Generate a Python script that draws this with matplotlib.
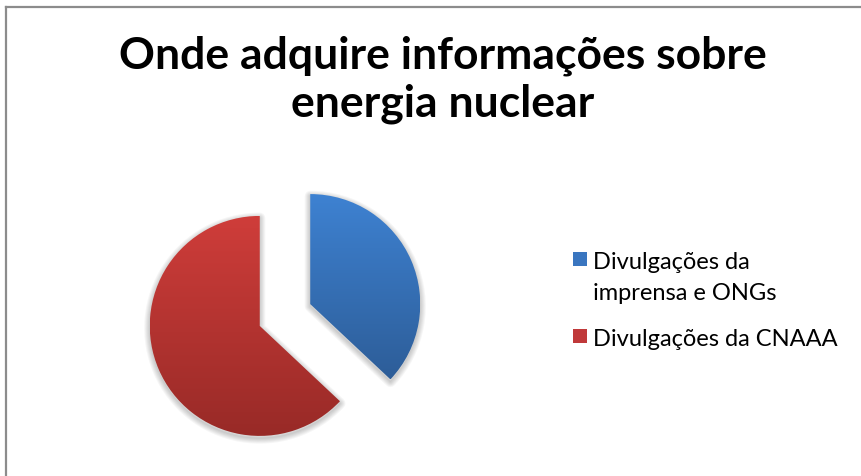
import numpy as np
import matplotlib
matplotlib.use("Agg")
import matplotlib.pyplot as plt
from matplotlib.colors import LinearSegmentedColormap
from matplotlib.patches import Rectangle, Wedge
from matplotlib.lines import Line2D

# ---- data ----
categories = ["Divulgações da\nimprensa e ONGs", "Divulgações da CNAAA"]
values = [37, 63]
title = "Onde adquire informações sobre\nenergia nuclear"
top_colors = ["#3e82d2", "#cf3d3a"]
bottom_colors = ["#2d5d98", "#982a27"]
legend_colors = ["#3a76c0", "#c0393a"]

W, H = 861, 477
fig = plt.figure(figsize=(W / 100, H / 100), dpi=100)
fig.patch.set_facecolor("white")

# chart border (top and left visible)
fig.add_artist(Line2D([6 / W, 6 / W], [0, 1 - 7.5 / H], color="#8c8c8c", lw=1.6))
fig.add_artist(Line2D([6 / W, 1], [1 - 7.5 / H, 1 - 7.5 / H], color="#8c8c8c", lw=1.6))

# pie axes: center at (285, 316) px from top-left, radius 110 px
cx, cy, R = 285.0, 316.0, 110.0
half = 1.5 * R
ax = fig.add_axes([(cx - half) / W, (H - cy - half) / H, 2 * half / W, 2 * half / H])
ax.set_xlim(-1.5, 1.5)
ax.set_ylim(-1.5, 1.5)
ax.axis("off")

wedges, _ = ax.pie(values, startangle=90, counterclock=False, explode=[0.25, 0.25],
                   radius=1.0, wedgeprops=dict(linewidth=0))

for i, w in enumerate(wedges):
    # soft shadow
    for k in range(6):
        sh = Wedge((w.center[0], w.center[1] - 0.02), w.r, w.theta1, w.theta2,
                   facecolor="none", edgecolor="black", lw=1 + 1.4 * k,
                   alpha=0.035, zorder=0.5, joinstyle="round")
        ax.add_patch(sh)
    ext = w.get_path().get_extents()
    cmap = LinearSegmentedColormap.from_list("g%d" % i, [bottom_colors[i], top_colors[i]])
    grad = np.linspace(0, 1, 256).reshape(-1, 1)
    w.set_facecolor("none")
    w.set_zorder(2)
    im = ax.imshow(grad, cmap=cmap, origin="lower", aspect="auto",
                   extent=[ext.x0, ext.x1, ext.y0, ext.y1], zorder=1.5,
                   interpolation="bilinear")
    im.set_clip_path(w)
ax.set_xlim(-1.5, 1.5)
ax.set_ylim(-1.5, 1.5)

# title (baselines at 69 and 117 px from top)
for k, line in enumerate(title.split("\n")):
    fig.text(443 / W, 1 - (69 + 48 * k) / H, line, ha="center", va="baseline",
             fontsize=32, fontweight="bold", family="Lato", color="black")

# legend
entry_base = [269, 346]
for lab, col, yb in zip(categories, legend_colors, entry_base):
    fig.add_artist(Rectangle((573 / W, 1 - (yb - 2) / H), 14 / W, 14 / H,
                             facecolor=col, edgecolor="none", transform=fig.transFigure))
    for k, line in enumerate(lab.split("\n")):
        fig.text(593 / W, 1 - (yb + 31.5 * k) / H, line, ha="left", va="baseline",
                 fontsize=17, family="Lato", color="black")

fig.savefig("out.png", dpi=100, facecolor="white")
